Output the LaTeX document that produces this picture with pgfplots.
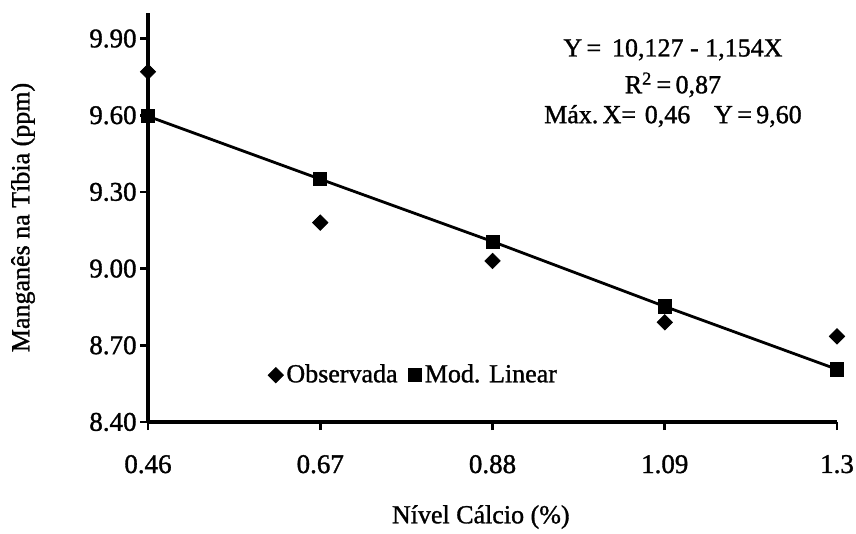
\documentclass[border=0pt]{standalone}
\usepackage{fontspec}
\setmainfont{Liberation Serif}[FakeBold=1.2]
\usepackage{pgfplots}
\pgfplotsset{compat=1.18}

% valores
\pgfplotstableread{
x     y
0.46  9.77
0.67  9.18
0.88  9.03
1.09  8.79
1.30  8.735
}\observada
\pgfplotstableread{
x     y
0.46  9.596
0.67  9.350
0.88  9.106
1.09  8.852
1.30  8.606
}\linear

\begin{document}
\fontsize{13pt}{15.6pt}\selectfont
\begin{tikzpicture}
  \begin{axis}[
    name=ax,
    scale only axis,
    width=344.5pt, height=204.5pt,
    xmin=0.46, xmax=1.3,
    ymin=8.4, ymax=10.0,
    axis x line*=bottom, axis y line*=left,
    axis line style={-, line width=1.6pt},
    tick style={line width=1.4pt, black},
    tick align=outside,
    major tick length=4pt,
    xtick={0.46,0.67,0.88,1.09,1.3},
    xticklabels={0.46,0.67,0.88,1.09,1.3},
    ytick={8.4,8.7,9.0,9.3,9.6,9.9},
    yticklabels={8.40,8.70,9.00,9.30,9.60,9.90},
    /pgf/number format/assume math mode=true,
    tick label style={font=\fontsize{13.5pt}{16pt}\selectfont},
    xticklabel style={yshift=-8pt},
    yticklabel style={inner sep=1.5pt},
    xlabel={Nível Cálcio (\%)},
    ylabel={Manganês na Tíbia (ppm)},
    every axis x label/.style={at={(axis description cs:0.483,-0.2323)}, anchor=center},
    every axis y label/.style={at={(axis description cs:-0.1814,0.5)}, anchor=center, rotate=90},
    legend image code/.code={\draw[#1] plot coordinates {(0.12cm,0cm)};},
    legend style={at={(axis cs:0.606,8.583)}, anchor=west, draw=none, fill=none,
      inner sep=0pt, legend columns=2,
      /tikz/every even column/.append style={column sep=4pt},
      nodes={inner sep=1.5pt}},
  ]
    \addplot[black, line width=1.4pt, forget plot] table[x=x, y=y] {\linear};
    \addplot[only marks, mark=square*, mark size=2.7pt, mark options={rotate=45, fill=black, draw=black}]
      table[x=x, y=y] {\observada};
    \addlegendentry{Observada}
    \addplot[only marks, mark=square*, mark size=3.3pt, mark options={fill=black, draw=black}]
      table[x=x, y=y] {\linear};
    \addlegendentry{Mod. Linear}

    \node[anchor=base] at (axis cs:1.100,9.830) {Y\,=\, 10,127 - 1,154X};
    \node[anchor=base] at (axis cs:1.100,9.686) {R\textsuperscript{2}\,=\,0,87};
    \node[anchor=base] at (axis cs:1.100,9.569) {Máx.\,X=\,\,0,46\enspace\, Y\,=\,9,60};
  \end{axis}
  \pgfresetboundingbox
  \path[use as bounding box] ([shift={(-74pt,-55.5pt)}]ax.south west)
    rectangle ([shift={(9.5pt,6.5pt)}]ax.north east);
\end{tikzpicture}
\end{document}
